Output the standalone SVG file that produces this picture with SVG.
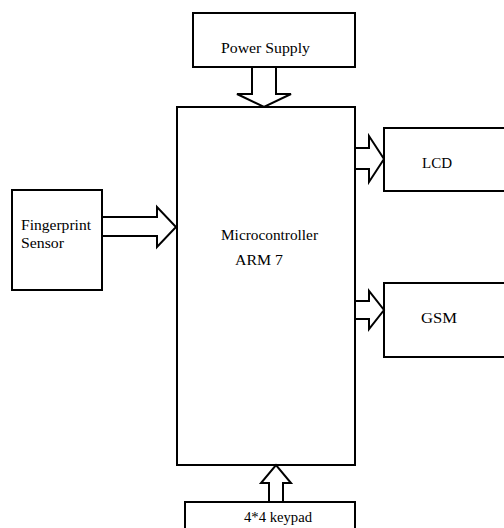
<svg xmlns="http://www.w3.org/2000/svg" width="504" height="528" viewBox="0 0 504 528">
<style>
.box{fill:#fff;stroke:#000;stroke-width:2}
.arr{fill:#fff;stroke:#000;stroke-width:2;stroke-linejoin:miter}
.t{font-family:'Liberation Serif','Times New Roman',serif;font-size:15px;fill:#000}
</style>
<rect width="504" height="528" fill="#fff"/>
<g id="power"><rect class="box" x="193" y="13" width="162" height="54"/><text class="t" x="221" y="53" textLength="89" lengthAdjust="spacingAndGlyphs">Power Supply</text></g>
<g id="mcu"><rect class="box" x="177" y="107" width="178" height="358"/><text class="t" x="221" y="240" textLength="97" lengthAdjust="spacingAndGlyphs">Microcontroller</text><text class="t" x="235" y="265" textLength="48" lengthAdjust="spacingAndGlyphs">ARM 7</text></g>
<g id="fingerprint"><rect class="box" x="12" y="190" width="90" height="100"/><text class="t" x="21" y="230" textLength="70" lengthAdjust="spacingAndGlyphs">Fingerprint</text><text class="t" x="21" y="248" textLength="43" lengthAdjust="spacingAndGlyphs">Sensor</text></g>
<g id="lcd"><rect class="box" x="384" y="128" width="130" height="63"/><text class="t" x="422" y="168" textLength="30" lengthAdjust="spacingAndGlyphs">LCD</text></g>
<g id="gsm"><rect class="box" x="384" y="283" width="130" height="74"/><text class="t" x="421" y="323" textLength="36" lengthAdjust="spacingAndGlyphs">GSM</text></g>
<g id="keypad"><rect class="box" x="185" y="502" width="170" height="40"/><text class="t" x="244" y="522" textLength="68" lengthAdjust="spacingAndGlyphs">4*4 keypad</text></g>
<g id="connectors">
<polygon class="arr" points="252,67 252,94 237,94 264,107 291,94 276,94 276,67"/>
<polygon class="arr" points="102,217 157,217 157,207 176,227 157,247 157,236 102,236"/>
<polygon class="arr" points="355,148 369,148 369,136 384,159 369,182 369,169 355,169"/>
<polygon class="arr" points="355,301 369,301 369,291 384,310 369,329 369,319 355,319"/>
<polygon class="arr" points="269,502 269,483 261,483 276,465 291,483 283,483 283,502"/>
</g>
</svg>
